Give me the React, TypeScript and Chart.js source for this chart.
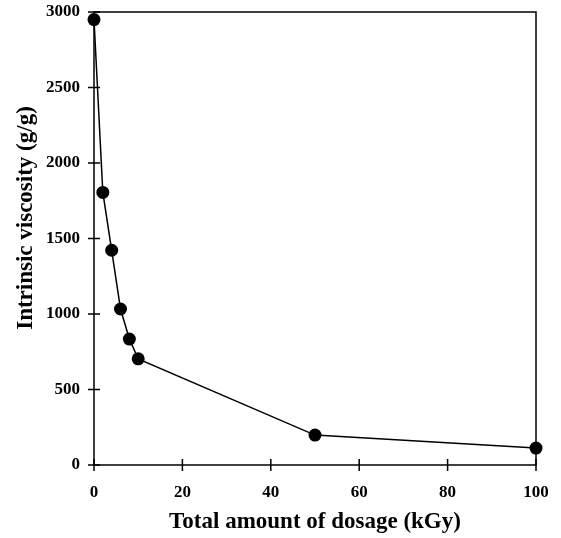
import React, { useEffect, useRef } from "react";
import { Chart, registerables } from "chart.js";

Chart.register(...registerables);

const dosage = [0, 2, 4, 6, 8, 10, 50, 100];
const viscosity = [2950, 1805, 1422, 1033, 834, 703, 198, 112];
const xTicks = [0, 20, 40, 60, 80, 100];
const yTicks = [0, 500, 1000, 1500, 2000, 2500, 3000];
const xTitle = "Total amount of dosage (kGy)";
const yTitle = "Intrinsic viscosity (g/g)";

const FONT = "'Liberation Serif', 'Times New Roman', serif";

const framePlugin = {
  id: "frame",
  afterDraw(chart: any) {
    const { ctx, chartArea: a, scales } = chart;
    ctx.save();
    ctx.strokeStyle = "#000";
    ctx.lineWidth = 1.5;
    ctx.strokeRect(a.left, a.top, a.right - a.left, a.bottom - a.top);
    ctx.beginPath();
    for (const v of xTicks) {
      const px = scales.x.getPixelForValue(v);
      ctx.moveTo(px, a.bottom - 6);
      ctx.lineTo(px, a.bottom + 6);
    }
    for (const v of yTicks) {
      const py = scales.y.getPixelForValue(v);
      ctx.moveTo(a.left - 6, py);
      ctx.lineTo(a.left + 6, py);
    }
    ctx.stroke();
    // y axis title
    ctx.translate(26, 218);
    ctx.rotate(-Math.PI / 2);
    ctx.fillStyle = "#000";
    ctx.font = `bold 23px ${FONT}`;
    ctx.textAlign = "center";
    ctx.textBaseline = "middle";
    ctx.fillText(yTitle, 0, 0);
    ctx.restore();
  },
};

export default function App() {
  const ref = useRef<HTMLCanvasElement>(null);
  useEffect(() => {
    if (!ref.current) return;
    const chart = new Chart(ref.current, {
      type: "line",
      data: {
        datasets: [
          {
            data: dosage.map((d, i) => ({ x: d, y: viscosity[i] })),
            borderColor: "#000",
            backgroundColor: "#000",
            borderWidth: 1.5,
            pointRadius: 6.5,
            pointHoverRadius: 6.5,
            pointBackgroundColor: "#000",
            pointBorderWidth: 0,
            tension: 0,
            clip: false,
          },
        ],
      },
      plugins: [framePlugin],
      options: {
        animation: false,
        responsive: false,
        layout: { padding: { left: 0, top: 12, right: 25, bottom: 0 } },
        plugins: { legend: { display: false }, tooltip: { enabled: false } },
        scales: {
          x: {
            type: "linear",
            min: 0,
            max: 100,
            afterBuildTicks: (s: any) => {
              s.ticks = xTicks.map((v) => ({ value: v }));
            },
            afterFit: (s: any) => {
              s.height = 73;
              s.paddingLeft = 0;
              s.paddingRight = 0;
            },
            grid: { display: false, drawTicks: false },
            border: { display: false },
            ticks: {
              color: "#000",
              padding: 17,
              maxRotation: 0,
              callback: (v: any) => String(v),
              font: { family: FONT, size: 17, weight: "bold" },
            },
            title: {
              display: true,
              text: xTitle,
              color: "#000",
              padding: { top: 4, bottom: 2 },
              font: { family: FONT, size: 23, weight: "bold" },
            },
          },
          y: {
            type: "linear",
            min: 0,
            max: 3000,
            afterBuildTicks: (s: any) => {
              s.ticks = yTicks.map((v) => ({ value: v }));
            },
            afterFit: (s: any) => {
              s.width = 94;
              s.paddingTop = 0;
              s.paddingBottom = 0;
            },
            grid: { display: false, drawTicks: false },
            border: { display: false },
            ticks: {
              color: "#000",
              padding: 14,
              callback: (v: any) => String(v),
              font: { family: FONT, size: 17, weight: "bold" },
            },
          },
        },
      },
    });
    return () => chart.destroy();
  }, []);
  return (
    <div style={{ position: "fixed", left: 0, top: 0, width: 561, height: 538, background: "#fff" }}>
      <canvas ref={ref} width={561} height={538} style={{ width: 561, height: 538 }} />
    </div>
  );
}
